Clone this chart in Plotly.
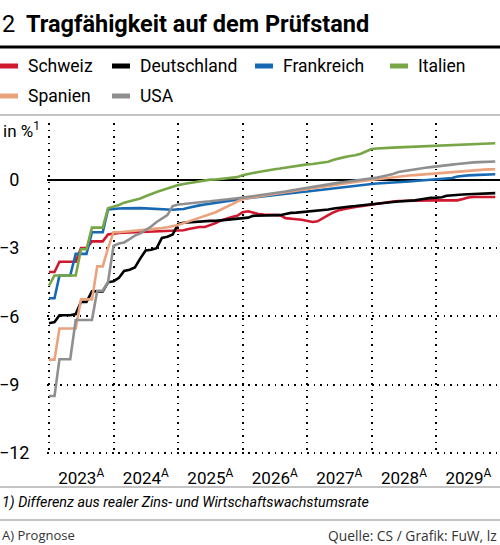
import plotly.graph_objects as go
import pandas as pd

# ---------------- data (monthly, Jan 2023 - Dec 2029) ----------------
years = [2023, 2024, 2025, 2026, 2027, 2028, 2029]
year_labels = ["2023", "2024", "2025", "2026", "2027", "2028", "2029"]
y_ticks = [-12, -9, -6, -3, 0]
y_tick_labels = ["\u221212", "\u22129\u2007", "\u22126\u2007", "\u22123\u2007", "0\u2007"]

schweiz = [
    -4.05, -4.05, -3.6, -3.6, -3.6, -3.6, -3.0, -3.0, -2.7, -2.7, -2.7, -2.4,
    -2.35, -2.33, -2.32, -2.31, -2.3, -2.3, -2.3, -2.29, -2.28, -2.27, -2.26, -2.25,
    -2.24, -2.21, -2.16, -2.1, -2.07, -2.07, -2.0, -1.9, -1.78, -1.7, -1.63, -1.58,
    -1.42, -1.38, -1.45, -1.5, -1.52, -1.52, -1.52, -1.55, -1.68, -1.72, -1.73, -1.75,
    -1.8, -1.85, -1.82, -1.7, -1.55, -1.42, -1.33, -1.28, -1.22, -1.19, -1.16, -1.12,
    -1.08, -1.05, -1.0, -0.98, -0.95, -0.93, -0.92, -0.91, -0.9, -0.9, -0.9, -0.9,
    -0.9, -0.9, -0.9, -0.9, -0.9, -0.84, -0.77, -0.75, -0.75, -0.75, -0.75, -0.75,
]
deutschland = [
    -6.3, -6.25, -5.95, -5.95, -5.95, -5.9, -5.36, -5.36, -4.9, -4.9, -4.9, -4.5,
    -4.45, -4.3, -4.0, -3.95, -3.85, -3.45, -3.1, -3.07, -3.0, -2.55, -2.5, -2.4,
    -1.93, -1.88, -1.86, -1.85, -1.83, -1.82, -1.8, -1.8, -1.78, -1.75, -1.72, -1.72,
    -1.7, -1.66, -1.58, -1.57, -1.56, -1.56, -1.56, -1.55, -1.5, -1.45, -1.44, -1.42,
    -1.4, -1.38, -1.35, -1.31, -1.3, -1.26, -1.22, -1.2, -1.17, -1.15, -1.12, -1.09,
    -1.07, -1.04, -1.0, -0.98, -0.97, -0.95, -0.94, -0.93, -0.9, -0.86, -0.82, -0.79,
    -0.78, -0.76, -0.7, -0.67, -0.65, -0.64, -0.63, -0.62, -0.6, -0.58, -0.58, -0.58,
]
frankreich = [
    -5.2, -5.2, -4.2, -4.2, -4.2, -3.25, -3.25, -3.25, -2.3, -2.3, -2.3, -1.3,
    -1.27, -1.26, -1.25, -1.24, -1.24, -1.24, -1.25, -1.27, -1.28, -1.28, -1.3, -1.31,
    -1.3, -1.28, -1.22, -1.16, -1.12, -1.08, -1.05, -1.02, -0.99, -0.95, -0.9, -0.86,
    -0.83, -0.8, -0.77, -0.75, -0.72, -0.69, -0.66, -0.63, -0.6, -0.58, -0.55, -0.53,
    -0.51, -0.48, -0.45, -0.42, -0.39, -0.36, -0.33, -0.3, -0.27, -0.24, -0.21, -0.19,
    -0.18, -0.16, -0.15, -0.14, -0.12, -0.11, -0.09, -0.07, -0.05, -0.03, -0.01, 0.0,
    0.02, 0.03, 0.05, 0.08, 0.15, 0.19, 0.2, 0.21, 0.22, 0.23, 0.24, 0.25,
]
italien = [
    -4.65, -4.2, -4.2, -4.2, -4.2, -4.2, -3.05, -3.05, -2.1, -2.1, -2.1, -1.25,
    -1.18, -1.1, -1.0, -0.95, -0.88, -0.82, -0.72, -0.62, -0.53, -0.46, -0.38, -0.3,
    -0.23, -0.18, -0.14, -0.1, -0.05, 0.0, 0.01, 0.02, 0.04, 0.06, 0.08, 0.12,
    0.2, 0.24, 0.3, 0.35, 0.4, 0.44, 0.47, 0.5, 0.54, 0.58, 0.61, 0.64,
    0.68, 0.7, 0.74, 0.78, 0.8, 0.88, 0.95, 1.0, 1.05, 1.08, 1.15, 1.24,
    1.36, 1.38, 1.4, 1.41, 1.42, 1.43, 1.44, 1.45, 1.46, 1.47, 1.48, 1.49,
    1.5, 1.5, 1.51, 1.52, 1.52, 1.53, 1.54, 1.55, 1.57, 1.58, 1.6, 1.61,
]
spanien = [
    -7.9, -7.9, -6.53, -6.53, -6.53, -6.53, -5.25, -5.25, -5.25, -3.8, -3.8, -3.0,
    -2.3, -2.3, -2.28, -2.26, -2.24, -2.22, -2.2, -2.18, -2.15, -2.12, -2.08, -2.04,
    -1.98, -1.9, -1.83, -1.75, -1.65, -1.58, -1.5, -1.42, -1.3, -1.2, -1.08, -0.95,
    -0.85, -0.8, -0.76, -0.72, -0.68, -0.65, -0.62, -0.58, -0.54, -0.5, -0.46, -0.42,
    -0.39, -0.36, -0.33, -0.3, -0.26, -0.22, -0.19, -0.16, -0.12, -0.09, -0.05, -0.02,
    0.0, 0.03, 0.06, 0.09, 0.11, 0.13, 0.16, 0.19, 0.21, 0.23, 0.25, 0.27,
    0.29, 0.31, 0.33, 0.35, 0.37, 0.39, 0.41, 0.43, 0.44, 0.45, 0.46, 0.47,
]
usa = [
    -9.5, -9.5, -7.88, -7.88, -7.88, -6.16, -6.16, -6.16, -6.16, -4.87, -4.87, -4.5,
    -2.9, -2.8, -2.75, -2.6, -2.45, -2.35, -2.2, -2.05, -1.85, -1.7, -1.55, -1.15,
    -1.08, -1.06, -1.03, -1.0, -0.98, -0.96, -0.94, -0.92, -0.9, -0.86, -0.84, -0.81,
    -0.78, -0.75, -0.72, -0.68, -0.65, -0.61, -0.58, -0.55, -0.51, -0.47, -0.43, -0.38,
    -0.33, -0.3, -0.27, -0.24, -0.2, -0.16, -0.12, -0.09, -0.06, -0.03, 0.0, 0.02,
    0.05, 0.1, 0.15, 0.2, 0.26, 0.35, 0.39, 0.43, 0.47, 0.5, 0.53, 0.56,
    0.58, 0.61, 0.64, 0.67, 0.7, 0.73, 0.75, 0.77, 0.78, 0.79, 0.8, 0.81,
]

series_names = ["Schweiz", "Deutschland", "Frankreich", "Italien", "Spanien", "USA"]
series_values = [schweiz, deutschland, frankreich, italien, spanien, usa]
colors = ["#d0182f", "#000000", "#1769b3", "#76a646", "#eaa37d", "#8f8f8f"]

months = pd.date_range("2023-01-01", periods=len(schweiz), freq="MS")

# ---------------- layout geometry ----------------
W, H = 500, 545
L, R, T, B = 47, 0, 123, 90
PW, PH = W - L - R, H - T - B


def pxx(x):
    return (x - L) / PW


def pxy(y):
    return (H - B - y) / PH


FONT = "Roboto, Liberation Sans, sans-serif"

fig = go.Figure()
for name, vals, col in zip(series_names, series_values, colors):
    fig.add_trace(go.Scatter(x=months, y=vals, mode="lines", name=name,
                             line=dict(color=col, width=2.6), showlegend=False,
                             hoverinfo="skip"))

shapes = []
annotations = []


def text(t, x, y, size, anchor="left", family=FONT, color="#000"):
    annotations.append(dict(text=t, x=pxx(x), y=pxy(y), xref="paper", yref="paper",
                            xanchor=anchor, yanchor="middle", showarrow=False,
                            font=dict(family=family, size=size, color=color)))


# title
text("2", 0, 24, 23.5)
text("<b>Tragfähigkeit auf dem Prüfstand</b>", 24, 24, 23.5)
# separator lines
for yy, col, wd in [(47, "#000000", 3), (115, "#8a8a8a", 1.2), (487, "#8a8a8a", 1.2), (520, "#8a8a8a", 1.2)]:
    shapes.append(dict(type="line", xref="paper", yref="paper", x0=pxx(0), x1=pxx(W),
                       y0=pxy(yy), y1=pxy(yy), line=dict(color=col, width=wd)))

# custom legend
legend_pos = [(0, 66), (112, 66), (255, 66), (390, 66), (0, 96), (112, 96)]
for (lx, ly), name, col in zip(legend_pos, series_names, colors):
    shapes.append(dict(type="line", xref="paper", yref="paper", x0=pxx(lx), x1=pxx(lx + 18),
                       y0=pxy(ly), y1=pxy(ly), line=dict(color=col, width=5)))
    text(name, lx + 26, ly, 17.5)

# unit label, footnote, source
text("in %<sup>1</sup>", 1, 130, 17)
text("<i>1) Differenz aus realer Zins- und Wirtschaftswachstumsrate</i>", 0, 502, 14.3)
text("A) Prognose", 0, 535, 13, family="Open Sans, sans-serif", color="#333")
text("Quelle: CS / Grafik: FuW, lz", 499, 535, 13.8, anchor="right",
     family="Open Sans, sans-serif", color="#333")

year_starts = [f"{y}-01-01" for y in years]
year_mids = [f"{y}-07-02" for y in years]
year_text = [f"{t}<sup>A</sup>" for t in year_labels]

DOT = "1.6px,4.9px"
fig.update_layout(
    width=W, height=H,
    margin=dict(l=L, r=R, t=T, b=B, pad=0, autoexpand=False),
    paper_bgcolor="white", plot_bgcolor="white",
    font=dict(family=FONT, color="#000"),
    shapes=shapes, annotations=annotations,
    xaxis=dict(
        range=["2022-12-20 12:00", "2029-12-28"], type="date", automargin=False,
        tickmode="array", tickvals=year_mids, ticktext=year_text,
        showgrid=False, zeroline=False, showline=False,
        ticks="outside", ticklen=8, tickcolor="rgba(0,0,0,0)",
        tickfont=dict(family=FONT, size=17, color="#000"),
        minor=dict(tickmode="array", tickvals=year_starts, showgrid=True,
                   gridcolor="#000", gridwidth=1.6, griddash=DOT, ticks=""),
        fixedrange=True,
    ),
    yaxis=dict(
        range=[-12.09, 2.5], tickmode="array", tickvals=y_ticks, ticktext=y_tick_labels,
        automargin=False,
        showgrid=True, gridcolor="#000", gridwidth=1.6, griddash=DOT,
        zeroline=True, zerolinecolor="#000", zerolinewidth=1.5, showline=False,
        ticks="outside", ticklen=13, tickcolor="rgba(0,0,0,0)",
        tickfont=dict(family=FONT, size=18, color="#000"),
        fixedrange=True,
    ),
)

fig.write_html("out.html",
               config={"displayModeBar": False},
               post_script="document.body.style.margin='0';document.body.style.padding='0';"
                           "document.body.style.overflow='hidden';")
